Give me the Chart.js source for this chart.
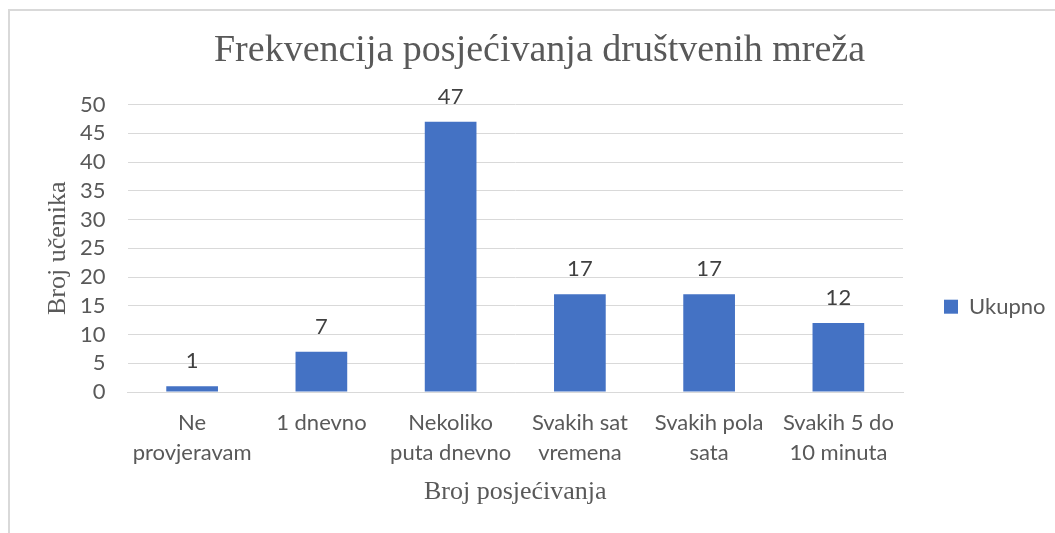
<!DOCTYPE html>
<html>
<head>
<meta charset="utf-8">
<script src="https://cdn.jsdelivr.net/npm/chart.js@4"></script>
<style>
  body { margin: 0; background: #fff; overflow: hidden; }
  #frame { position: absolute; left: 8px; top: 9px; width: 1100px; height: 600px;
    border-left: 2px solid #d9d9d9; border-top: 2px solid #d9d9d9; }
  #wrap { position: absolute; left: 0; top: 0; width: 1055px; height: 533px; }
</style>
</head>
<body>
<div id="frame"></div>
<div id="wrap"><canvas id="chart"></canvas></div>
<script>
const categories = [
  ["Ne", "provjeravam"],
  ["1 dnevno"],
  ["Nekoliko", "puta dnevno"],
  ["Svakih sat", "vremena"],
  ["Svakih pola", "sata"],
  ["Svakih 5 do", "10 minuta"]
]
const ukupno = [1, 7, 47, 17, 17, 12]

const textGray = "#595959"
const barBlue = "#4472C4"

// numbers above each bar
const valueLabels = {
  id: "valueLabels",
  afterDatasetsDraw(chart){
    const ctx = chart.ctx
    const meta = chart.getDatasetMeta(0)
    ctx.save()
    ctx.font = "22px Lato"
    ctx.fillStyle = "#404040"
    ctx.textAlign = "center"
    ctx.textBaseline = "alphabetic"
    meta.data.forEach((bar, i) => {
      ctx.fillText(chart.data.datasets[0].data[i], bar.x, bar.y - 18)
    })
    ctx.restore()
  }
}

const chart = new Chart(document.querySelector("#chart"), {
  type: "bar",
  plugins: [valueLabels],
  data: {
    labels: categories,
    datasets: [{
      label: "Ukupno",
      data: ukupno,
      backgroundColor: barBlue,
      categoryPercentage: 1,
      barPercentage: 0.4,
    }]
  },
  options: {
    responsive: true,
    maintainAspectRatio: false,
    animation: false,
    layout: {
      padding: { top: 9, left: 34, right: 10, bottom: 10 }
    },
    scales: {
      x: {
        grid: { display: false, drawTicks: false },
        border: { color: "#d9d9d9" },
        ticks: {
          color: textGray,
          font: { family: "Lato", size: 22, lineHeight: 1.36 },
          padding: 16,
          maxRotation: 0,
        },
        title: {
          display: true,
          text: "Broj posjećivanja",
          color: textGray,
          font: { family: "Liberation Serif", size: 26 },
          padding: { top: 8, bottom: 15 },
        },
        afterFit: (s) => { s.height = 131 }
      },
      y: {
        min: 0,
        max: 50,
        ticks: {
          stepSize: 5,
          autoSkip: false,
          color: textGray,
          font: { family: "Lato", size: 22 },
          padding: 22,
        },
        grid: { color: "#d9d9d9", drawTicks: false },
        border: { display: false },
        title: {
          display: true,
          text: "Broj učenika",
          color: textGray,
          font: { family: "Liberation Serif", size: 26 },
          padding: { top: 9, bottom: 0 },
        },
        afterFit: (s) => { s.width = 93.5 }
      }
    },
    plugins: {
      title: {
        display: true,
        text: "Frekvencija posjećivanja društvenih mreža",
        color: textGray,
        font: { family: "Liberation Serif", size: 38, weight: "normal" },
        padding: { top: 19, bottom: 31 },
      },
      legend: {
        position: "right",
        maxWidth: 142,
        labels: {
          color: textGray,
          font: { family: "Lato", size: 22 },
          boxWidth: 14,
          boxHeight: 14,
          padding: 41,
        },
        title: {
          display: true,
          text: "",
          padding: { top: 0, bottom: 67 },
        }
      },
      tooltip: { enabled: false }
    }
  }
})
</script>
</body>
</html>
